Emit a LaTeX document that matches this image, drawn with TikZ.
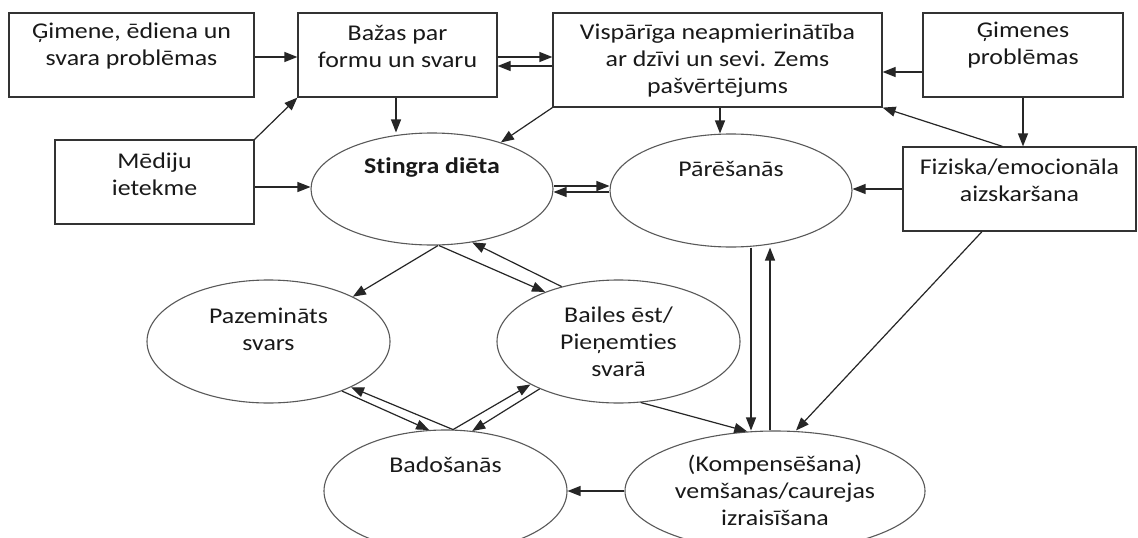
\documentclass[tikz,border=0pt]{standalone}
\usepackage{fontspec}
\setmainfont{Carlito}[FakeStretch=1.15, RawFeature={-liga;-dlig}]
\usetikzlibrary{arrows.meta,shapes.geometric}
\begin{document}
\begin{tikzpicture}[x=1pt,y=-1pt,
  box/.style={draw=black!80, line width=1.2pt, rectangle, inner sep=0pt},
  ell/.style={draw=black!65, line width=1.1pt, ellipse, inner sep=0pt},
  lbl/.style={align=center, inner sep=0pt, font=\fontsize{22.5}{27}\selectfont, text=black!90},
  arr/.style={draw=black!85, line width=1.2pt, -{Triangle[length=13pt,width=10pt]}}
]
\path[use as bounding box, clip] (0,0) rectangle (1138,538);
\fill[white] (0,0) rectangle (1138,538);

% boxes
\node[box, minimum width=245pt, minimum height=84pt] (b1) at (131.5,55) {};
\node[box, minimum width=199pt, minimum height=84pt] (b2) at (397.5,55) {};
\node[box, minimum width=329pt, minimum height=94pt] (b3) at (717.5,60) {};
\node[box, minimum width=200pt, minimum height=84pt] (b4) at (1023,55) {};
\node[box, minimum width=233pt, minimum height=84pt] (b5) at (1019.5,189) {};
\node[box, minimum width=199pt, minimum height=84pt] (b6) at (154.5,182) {};

% ellipses
\node[ell, minimum width=242pt, minimum height=112pt] (e1) at (432,189) {};
\node[ell, minimum width=242pt, minimum height=113pt] (e2) at (731,190.5) {};
\node[ell, minimum width=243pt, minimum height=123pt] (e3) at (268.5,341.5) {};
\node[ell, minimum width=243pt, minimum height=123pt] (e4) at (618.5,341.5) {};
\node[ell, minimum width=243pt, minimum height=122pt] (e5) at (445.5,491) {};
\node[ell, minimum width=300pt, minimum height=120pt] (e6) at (775,491) {};

% texts
\node[lbl] (b1t) at (131.5,46.5) {Ģimene, ēdiena un\\svara problēmas};
\node[lbl] (b2t) at (397.5,46.5) {Bažas par\\formu un svaru};
\node[lbl] (b3t) at (717.5,61) {Vispārīga neapmierinātība\\ar dzīvi un sevi. Zems\\pašvērtējums};
\node[lbl] (b4t) at (1023,45) {Ģimenes\\problēmas};
\node[lbl] (b5t) at (1019.5,180) {Fiziska/emocionāla\\aizskaršana};
\node[lbl] (b6t) at (154.5,174) {Mēdiju\\ietekme};
\node[lbl] (e1t) at (432,168) {\bfseries Stingra diēta};
\node[lbl] (e2t) at (731,169) {Pārēšanās};
\node[lbl] (e3t) at (268.5,329) {Pazemināts\\svars};
\node[lbl] (e4t) at (618.5,342) {Bailes ēst/\\Pieņemties\\svarā};
\node[lbl] (e5t) at (445.5,465) {Badošanās};
\node[lbl] (e6t) at (775,490) {(Kompensēšana)\\vemšanas/caurejas\\izraisīšana};

% connectors between boxes
\draw[arr] ([yshift=-2pt]b1.east) -- ([yshift=-2pt]b1.east -| b2.west);
\draw[arr] ([yshift=-2pt]b2.east) -- ([yshift=-2pt]b2.east -| b3.west);
\draw[arr] ([yshift=-11pt]b2.east -| b3.west) -- ([yshift=-11pt]b2.east);
\draw[arr] ([yshift=-17pt]b4.west) -- ([yshift=-17pt]b4.west -| b3.east);
\draw[arr] (b4.south) -- (b4.south |- b5.north);
\draw[arr] ([xshift=-17pt]b5.north) -- (b3.south east);
\draw[arr] (b6.north east) -- (b2.south west);

% into the ellipses
\draw[arr] ([yshift=-5pt]b6.east) -- ([yshift=-5pt]b6.east -| e1.west);
\draw[arr] ([xshift=-1.5pt]b2.south) -- ([xshift=-1.5pt]b2.south |- e1.north);
\draw[arr] (b3.south west) -- (e1);
\draw[arr] ([xshift=2.5pt]b3.south) -- ([xshift=2.5pt]b3.south |- e2.north);
\draw[arr] (b5.west) -- (b5.west -| e2.east);
\draw[arr] ([xshift=-37.5pt]b5.south) -- ([xshift=21pt]e6.north);

% between ellipses
\draw[arr] ([yshift=3pt]e1.east) -- ([yshift=3pt]e1.east -| e2.west);
\draw[arr] ([yshift=-1.5pt]e2.west) -- ([yshift=-1.5pt]e2.west -| e1.east);
\draw[arr] ([xshift=6pt]e1.south) -- (e3.28);
\draw[arr] ([xshift=7pt]e1.south) -- (e4.146);
\draw[arr] (e4.136) -- (e1.-53);
\draw[arr] (e3.-34) -- (e5.105);
\draw[arr] (e5.83) -- (e3.-29);
\draw[arr] (e5.83) -- (e4.206);
\draw[arr] (e4.211) -- (e5.66);
\draw[arr] (e4.-70) -- (e6.115);
\draw[arr] ([xshift=20pt]e2.south) -- ([xshift=20pt]e2.south |- e6.north);
\draw[arr] ([xshift=39pt]e2.south |- e6.north) -- ([xshift=39pt]e2.south);
\draw[arr] (e6.west) -- (e5.east);
\end{tikzpicture}
\end{document}
